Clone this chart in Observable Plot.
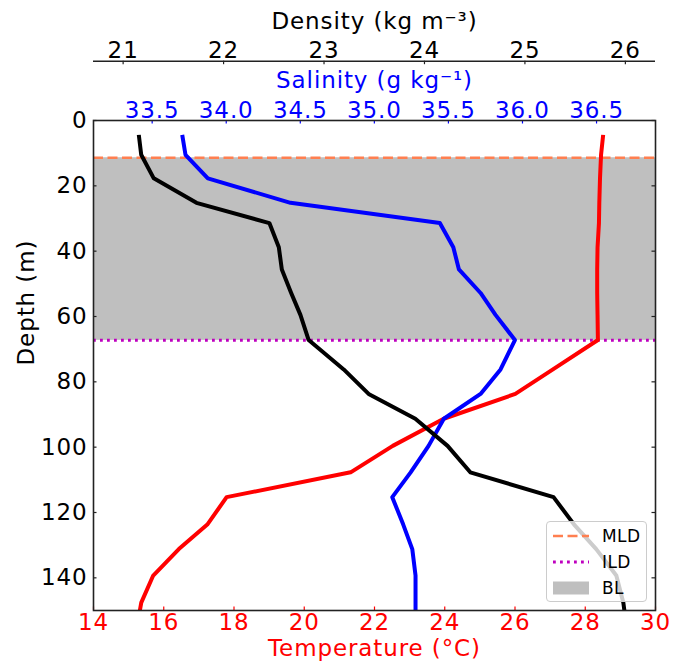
<!DOCTYPE html>
<html><head><meta charset="utf-8">
<script src="https://cdn.jsdelivr.net/npm/d3@7"></script>
<script src="https://cdn.jsdelivr.net/npm/@observablehq/plot@0.6"></script>
<style>
body{margin:0;background:#fff;font-family:"DejaVu Sans",sans-serif;}
#chart{position:relative;width:673px;height:663px;}
#chart svg{position:absolute;left:0;top:0;overflow:visible;}
#chart svg text{letter-spacing:0.9px;}
#legend{position:absolute;left:546px;top:521px;width:99px;height:79px;border:1px solid #cccccc;border-radius:4px;background:rgba(255,255,255,0.8);font-family:"DejaVu Sans",sans-serif;font-size:17px;letter-spacing:0.4px;color:#000;}
#legend .item{position:absolute;left:6px;height:20px;}
#legend .item svg{position:absolute;left:0;top:0;}
#legend .item span{position:absolute;left:49px;top:0;line-height:20px;white-space:nowrap;}
</style></head><body>
<div id="chart"></div>
<script>
// ---- data ----
const depth       = [4.4, 10.5, 17.7, 25.2, 31.4, 38.8, 45.6, 52.8, 59.5, 67.2, 76.2, 83.7, 91.3, 99.6, 107.7, 115.3, 123.7, 131.2, 139.3, 147.6, 150];
const temperature = [28.51, 28.45, 28.42, 28.40, 28.39, 28.35, 28.34, 28.34, 28.35, 28.36, 27.08, 26.01, 23.97, 22.52, 21.32, 17.79, 17.24, 16.43, 15.70, 15.36, 15.32];
const salinity    = [33.703, 33.725, 33.876, 34.434, 35.442, 35.533, 35.571, 35.717, 35.818, 35.949, 35.852, 35.717, 35.469, 35.366, 35.245, 35.121, 35.195, 35.256, 35.278, 35.278, 35.278];
const density     = [21.156, 21.18, 21.305, 21.73, 22.456, 22.55, 22.58, 22.673, 22.765, 22.847, 23.196, 23.444, 23.909, 24.23, 24.456, 25.285, 25.49, 25.71, 25.91, 25.98, 25.99];
const mldDepth = 11.4;
const ildDepth = 67.3;
const tempTicks = [14, 16, 18, 20, 22, 24, 26, 28, 30];
const salTicks = [33.5, 34.0, 34.5, 35.0, 35.5, 36.0, 36.5];
const denTicks = [21, 22, 23, 24, 25, 26];
const depthTicks = [0, 20, 40, 60, 80, 100, 120, 140];
const tempDomain = [14, 30];
const salDomain = [33.104, 36.898];
const denDomain = [20.705, 26.3];
const depthDomain = [0, 150];

// ---- layout ----
const W = 673, H = 663, mT = 120, mB = 53, mL = 93, mR = 18;
const innerW = W - mL - mR, innerH = H - mT - mB;
const FS = 23;
const RED = "#ff0000", BLUE = "#0000ff", BLACK = "#000000", AX = "#222222";
const idx = depth.map((_, i) => i);

function base(xDomain, marks, bg) {
  return Plot.plot({
    width: W, height: H, marginTop: mT, marginBottom: mB, marginLeft: mL, marginRight: mR,
    x: {domain: xDomain, axis: null},
    y: {domain: depthDomain, reverse: true, axis: null},
    style: {fontFamily: "DejaVu Sans", background: bg, overflow: "visible"},
    marks
  });
}

const lineOpts = {strokeWidth: 4, strokeLinejoin: "round", strokeLinecap: "butt", clip: true};

// Temperature layer (bottom)
const pT = base(tempDomain, [
  Plot.rect([{top: mldDepth, bottom: ildDepth}], {x1: tempDomain[0], x2: tempDomain[1], y1: "top", y2: "bottom", fill: "#bfbfbf"}),
  Plot.ruleY([mldDepth], {stroke: "#ff7f50", strokeWidth: 2.6, strokeDasharray: "10,4.5"}),
  Plot.ruleY([ildDepth], {stroke: "#bf00bf", strokeWidth: 3, strokeDasharray: "2.8,4.2"}),
  Plot.line(idx, {x: i => temperature[i], y: i => depth[i], stroke: RED, ...lineOpts}),
  Plot.axisX(tempTicks, {anchor: "bottom", tickSize: 0, tickPadding: 3.5, fontSize: FS, color: RED, label: null}),
  Plot.tickX(tempTicks, {x: d => d, insetTop: innerH - 3.5, stroke: RED, strokeWidth: 1.2}),
  Plot.text(["Temperature (°C)"], {frameAnchor: "bottom", dy: 45.5, lineAnchor: "bottom", fontSize: FS, fill: RED}),
  Plot.axisY(depthTicks, {anchor: "left", tickSize: 0, tickPadding: 6, fontSize: FS, color: BLACK, label: null}),
  Plot.tickY(depthTicks, {y: d => d, insetRight: innerW - 3.5, stroke: AX, strokeWidth: 1.2}),
  Plot.tickY(depthTicks, {y: d => d, insetLeft: innerW - 3.5, stroke: AX, strokeWidth: 1.2}),
  Plot.text(["Depth (m)"], {frameAnchor: "left", dx: -60, rotate: -90, lineAnchor: "bottom", fontSize: FS, fill: BLACK})
], "#ffffff");

// Salinity layer
const pS = base(salDomain, [
  Plot.line(idx, {x: i => salinity[i], y: i => depth[i], stroke: BLUE, ...lineOpts}),
  Plot.axisX(salTicks, {anchor: "top", tickSize: 0, tickPadding: 2.7, fontSize: FS, color: BLUE, label: null, tickFormat: d => d.toFixed(1)}),
  Plot.tickX(salTicks, {x: d => d, insetBottom: innerH - 3.5, stroke: BLUE, strokeWidth: 1.2}),
  Plot.text(["Salinity (g kg⁻¹)"], {frameAnchor: "top", dy: -32.7, lineAnchor: "bottom", fontSize: FS, fill: BLUE})
], "transparent");

// Density layer (top)
const DY = -59.3;
const pD = base(denDomain, [
  Plot.line(idx, {x: i => density[i], y: i => depth[i], stroke: BLACK, ...lineOpts}),
  Plot.ruleY([depthDomain[0]], {dy: DY, stroke: AX, strokeWidth: 1.5}),
  Plot.tickX(denTicks, {x: d => d, insetBottom: innerH - 3.5, dy: DY, stroke: AX, strokeWidth: 1.2}),
  Plot.axisX(denTicks, {anchor: "top", dy: DY, tickSize: 0, tickPadding: 3.4, fontSize: FS, color: BLACK, label: null}),
  Plot.text(["Density (kg m⁻³)"], {frameAnchor: "top", dy: -91.7, lineAnchor: "bottom", fontSize: FS, fill: BLACK}),
  Plot.frame({stroke: AX, strokeWidth: 1.6})
], "transparent");

const chart = document.getElementById("chart");
chart.append(pT, pS, pD);

// Legend
const legend = document.createElement("div");
legend.id = "legend";
const items = [
  {label: "MLD", kind: "dash", top: 4},
  {label: "ILD", kind: "dot", top: 30},
  {label: "BL", kind: "patch", top: 56}
];
for (const it of items) {
  const d = document.createElement("div");
  d.className = "item";
  d.style.top = it.top + "px";
  let g;
  if (it.kind === "dash") g = '<line x1="0" y1="10" x2="36" y2="10" stroke="#ff7f50" stroke-width="2.6" stroke-dasharray="10,4.5"/>';
  else if (it.kind === "dot") g = '<line x1="0" y1="10" x2="36" y2="10" stroke="#bf00bf" stroke-width="3" stroke-dasharray="2.8,4.2"/>';
  else g = '<rect x="0" y="3.5" width="36" height="13" fill="#bfbfbf"/>';
  d.innerHTML = '<svg width="40" height="20">' + g + '</svg><span>' + it.label + '</span>';
  legend.appendChild(d);
}
chart.appendChild(legend);
</script>
</body></html>
